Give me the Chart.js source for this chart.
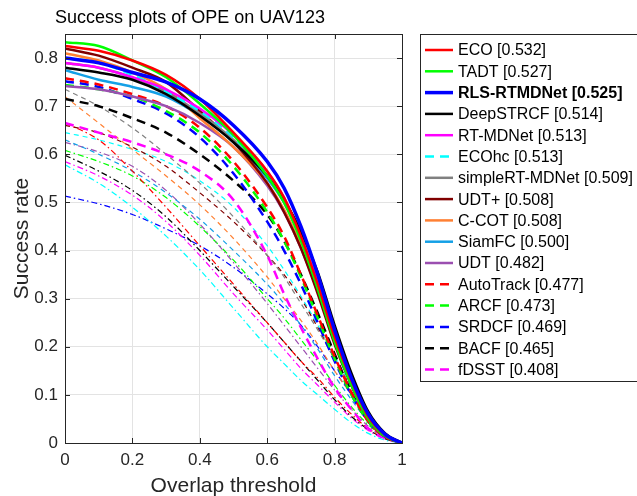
<!DOCTYPE html>
<html lang="en">
<head>
<meta charset="UTF-8">
<title>Success plots of OPE on UAV123</title>
<script src="https://cdn.jsdelivr.net/npm/chart.js"></script>
<style>
  html, body { margin: 0; padding: 0; background: #fff; }
  #c { display: block; }
</style>
</head>
<body>
<canvas id="c" width="637" height="496"></canvas>
<script>
// overlap thresholds (x) shared by every curve
const thresholds = [0, 0.1, 0.2, 0.3, 0.4, 0.5, 0.6, 0.65, 0.7, 0.75, 0.8, 0.85, 0.9, 0.95, 1];
const xTicks = [0, 0.2, 0.4, 0.6, 0.8, 1];
const yTicks = [0, 0.1, 0.2, 0.3, 0.4, 0.5, 0.6, 0.7, 0.8];

// trackers shown in the legend, in legend order
const trackerNames = ['ECO', 'TADT', 'RLS-RTMDNet', 'DeepSTRCF', 'RT-MDNet', 'ECOhc', 'simpleRT-MDNet',
  'UDT+', 'C-COT', 'SiamFC', 'UDT', 'AutoTrack', 'ARCF', 'SRDCF', 'BACF', 'fDSST'];
const trackerScores = ['0.532', '0.527', '0.525', '0.514', '0.513', '0.513', '0.509',
  '0.508', '0.508', '0.500', '0.482', '0.477', '0.473', '0.469', '0.465', '0.408'];

// success rate per threshold
const eco        = [0.825, 0.815, 0.795, 0.765, 0.715, 0.645, 0.565, 0.51, 0.43, 0.33, 0.22, 0.13, 0.055, 0.017, 0];
const tadt       = [0.833, 0.825, 0.795, 0.76, 0.705, 0.64, 0.555, 0.50, 0.42, 0.32, 0.21, 0.12, 0.05, 0.015, 0];
const rlsRtmdnet = [0.80, 0.79, 0.77, 0.75, 0.715, 0.66, 0.585, 0.53, 0.45, 0.35, 0.235, 0.135, 0.06, 0.018, 0];
const deepStrcf  = [0.78, 0.77, 0.755, 0.725, 0.68, 0.625, 0.555, 0.505, 0.44, 0.355, 0.245, 0.145, 0.065, 0.02, 0];
const rtMdnet    = [0.79, 0.78, 0.76, 0.735, 0.695, 0.64, 0.565, 0.51, 0.43, 0.335, 0.225, 0.13, 0.055, 0.017, 0];
const ecoHc      = [0.80, 0.79, 0.765, 0.73, 0.69, 0.635, 0.56, 0.505, 0.43, 0.335, 0.225, 0.13, 0.055, 0.017, 0];
const simpleRt   = [0.79, 0.78, 0.76, 0.73, 0.685, 0.63, 0.555, 0.50, 0.425, 0.33, 0.22, 0.125, 0.055, 0.017, 0];
const udtPlus    = [0.82, 0.805, 0.78, 0.75, 0.69, 0.625, 0.54, 0.48, 0.405, 0.31, 0.205, 0.12, 0.05, 0.015, 0];
const ccot       = [0.81, 0.795, 0.77, 0.735, 0.675, 0.615, 0.54, 0.485, 0.41, 0.32, 0.215, 0.125, 0.05, 0.015, 0];
const siamFc     = [0.775, 0.755, 0.74, 0.72, 0.68, 0.625, 0.55, 0.50, 0.43, 0.335, 0.225, 0.13, 0.055, 0.017, 0];
const udt        = [0.742, 0.735, 0.72, 0.70, 0.665, 0.615, 0.535, 0.48, 0.405, 0.315, 0.21, 0.12, 0.05, 0.015, 0];
const autoTrack  = [0.758, 0.745, 0.725, 0.70, 0.655, 0.585, 0.49, 0.43, 0.35, 0.265, 0.18, 0.105, 0.045, 0.013, 0];
const arcf       = [0.744, 0.735, 0.72, 0.69, 0.645, 0.575, 0.48, 0.42, 0.345, 0.26, 0.175, 0.10, 0.045, 0.013, 0];
const srdcf      = [0.752, 0.74, 0.715, 0.685, 0.635, 0.56, 0.46, 0.40, 0.33, 0.25, 0.17, 0.10, 0.045, 0.013, 0];
const bacf       = [0.715, 0.70, 0.675, 0.645, 0.60, 0.545, 0.475, 0.42, 0.35, 0.27, 0.185, 0.105, 0.045, 0.013, 0];
const fdsst      = [0.665, 0.645, 0.625, 0.60, 0.565, 0.505, 0.39, 0.31, 0.24, 0.175, 0.115, 0.07, 0.03, 0.01, 0];

// other trackers (not in the legend)
const other1  = [0.735, 0.70, 0.655, 0.60, 0.54, 0.47, 0.39, 0.345, 0.29, 0.235, 0.175, 0.115, 0.06, 0.02, 0];
const other2  = [0.72, 0.665, 0.61, 0.555, 0.495, 0.425, 0.345, 0.30, 0.255, 0.205, 0.15, 0.10, 0.05, 0.018, 0];
const other3  = [0.66, 0.645, 0.615, 0.575, 0.52, 0.46, 0.39, 0.35, 0.30, 0.24, 0.175, 0.115, 0.06, 0.02, 0];
const other4  = [0.665, 0.63, 0.565, 0.49, 0.41, 0.33, 0.25, 0.21, 0.17, 0.135, 0.095, 0.06, 0.03, 0.01, 0];
const other5  = [0.645, 0.63, 0.61, 0.585, 0.545, 0.49, 0.41, 0.36, 0.305, 0.245, 0.18, 0.12, 0.06, 0.02, 0];
const other6  = [0.63, 0.60, 0.565, 0.52, 0.465, 0.40, 0.33, 0.29, 0.245, 0.195, 0.14, 0.09, 0.045, 0.015, 0];
const other7  = [0.625, 0.605, 0.575, 0.525, 0.455, 0.375, 0.29, 0.245, 0.20, 0.155, 0.11, 0.07, 0.035, 0.012, 0];
const other8  = [0.608, 0.585, 0.555, 0.51, 0.45, 0.38, 0.30, 0.26, 0.215, 0.17, 0.12, 0.075, 0.038, 0.012, 0];
const other9  = [0.598, 0.565, 0.525, 0.47, 0.40, 0.325, 0.25, 0.21, 0.17, 0.13, 0.09, 0.055, 0.028, 0.009, 0];
const other10 = [0.585, 0.555, 0.515, 0.46, 0.39, 0.31, 0.235, 0.195, 0.155, 0.12, 0.085, 0.052, 0.026, 0.008, 0];
const other11 = [0.578, 0.54, 0.49, 0.43, 0.36, 0.28, 0.20, 0.165, 0.13, 0.10, 0.07, 0.042, 0.02, 0.006, 0];
const other12 = [0.513, 0.497, 0.475, 0.445, 0.41, 0.365, 0.31, 0.28, 0.245, 0.20, 0.15, 0.10, 0.05, 0.015, 0];

const FONT = "'Liberation Sans', Arial, Helvetica, sans-serif";
const TXT = '#262626';
const DASH = [9, 6];
const THIN_DASH = [5, 4];
const DASH_DOT = [6, 3, 1.5, 3];

function curve(label, values, color, width, dash) {
  return {
    label: label,
    data: thresholds.map((t, i) => ({ x: t, y: values[i] })),
    borderColor: color,
    backgroundColor: color,
    borderWidth: width,
    borderDash: dash || [],
    pointRadius: 0,
    fill: false,
    cubicInterpolationMode: 'monotone'
  };
}

// index 0 is drawn on top
const datasets = [
  curve('RLS-RTMDNet', rlsRtmdnet, '#0000ff', 3.5),
  curve('ECO', eco, '#ff0000', 2.5),
  curve('TADT', tadt, '#00ff00', 2.5),
  curve('DeepSTRCF', deepStrcf, '#000000', 2.5),
  curve('RT-MDNet', rtMdnet, '#ff00ff', 2.5),
  curve('ECOhc', ecoHc, '#00ffff', 2.5, DASH),
  curve('simpleRT-MDNet', simpleRt, '#808080', 2.5),
  curve('UDT+', udtPlus, '#800000', 2.5),
  curve('C-COT', ccot, '#ff8033', 2.5),
  curve('SiamFC', siamFc, '#14a0e6', 2.5),
  curve('UDT', udt, '#9b4fb0', 2.5),
  curve('AutoTrack', autoTrack, '#ff0000', 2.5, DASH),
  curve('ARCF', arcf, '#00ff00', 2.5, DASH),
  curve('SRDCF', srdcf, '#0000ff', 2.5, DASH),
  curve('BACF', bacf, '#000000', 2.5, DASH),
  curve('fDSST', fdsst, '#ff00ff', 2.5, DASH),
  curve('o1', other1, '#808080', 1.2, THIN_DASH),
  curve('o2', other2, '#ff8033', 1.2, THIN_DASH),
  curve('o3', other3, '#800000', 1.2, THIN_DASH),
  curve('o4', other4, '#ff0000', 1.2, DASH_DOT),
  curve('o5', other5, '#00ffff', 1.2, THIN_DASH),
  curve('o6', other6, '#14a0e6', 1.2, THIN_DASH),
  curve('o7', other7, '#9b4fb0', 1.2, DASH_DOT),
  curve('o8', other8, '#00ff00', 1.2, DASH_DOT),
  curve('o9', other9, '#000000', 1.2, DASH_DOT),
  curve('o10', other10, '#ff00ff', 1.2, DASH_DOT),
  curve('o11', other11, '#00ffff', 1.2, DASH_DOT),
  curve('o12', other12, '#0000ff', 1.2, DASH_DOT)
];

function fmt(v) { return String(+v.toFixed(2)); }

// MATLAB-like frame, inward ticks, title, axis labels and boxed legend
const matlabLook = {
  id: 'matlabLook',
  afterDatasetsDraw(chart) {
    const ctx = chart.ctx;
    const a = chart.chartArea;
    const xs = chart.scales.x, ys = chart.scales.y;
    ctx.save();
    ctx.strokeStyle = TXT;
    ctx.lineWidth = 1;
    ctx.setLineDash([]);
    ctx.strokeRect(Math.round(a.left) + 0.5, Math.round(a.top) + 0.5,
      Math.round(a.right - a.left), Math.round(a.bottom - a.top));
    ctx.beginPath();
    xTicks.forEach(t => {
      const px = Math.round(xs.getPixelForValue(t)) + 0.5;
      ctx.moveTo(px, a.bottom); ctx.lineTo(px, a.bottom - 5);
      ctx.moveTo(px, a.top); ctx.lineTo(px, a.top + 5);
    });
    yTicks.forEach(t => {
      const py = Math.round(ys.getPixelForValue(t)) + 0.5;
      ctx.moveTo(a.left, py); ctx.lineTo(a.left + 5, py);
      ctx.moveTo(a.right, py); ctx.lineTo(a.right - 5, py);
    });
    ctx.stroke();

    // title and axis labels
    ctx.fillStyle = '#000';
    ctx.textAlign = 'center';
    ctx.textBaseline = 'middle';
    ctx.font = '18px ' + FONT;
    ctx.fillText('Success plots of OPE on UAV123', 190, 18);
    ctx.fillStyle = TXT;
    ctx.font = '21px ' + FONT;
    ctx.fillText('Overlap threshold', (a.left + a.right) / 2, 486);
    ctx.save();
    ctx.translate(22, (a.top + a.bottom) / 2);
    ctx.rotate(-Math.PI / 2);
    ctx.fillText('Success rate', 0, 0);
    ctx.restore();

    // legend
    ctx.fillStyle = '#fff';
    ctx.fillRect(420.5, 34.5, 230, 347);
    ctx.strokeStyle = TXT;
    ctx.strokeRect(420.5, 34.5, 230, 347);
    ctx.textAlign = 'left';
    trackerNames.forEach((name, i) => {
      const ds = chart.data.datasets.find(d => d.label === name);
      const y = 50 + i * 21.3;
      ctx.strokeStyle = ds.borderColor;
      ctx.lineWidth = ds.borderWidth;
      ctx.setLineDash(ds.borderDash);
      ctx.beginPath();
      ctx.moveTo(425, y); ctx.lineTo(453, y);
      ctx.stroke();
      ctx.setLineDash([]);
      ctx.fillStyle = '#000';
      ctx.font = (name === 'RLS-RTMDNet' ? 'bold ' : '') + '16px ' + FONT;
      ctx.fillText(name + ' [' + trackerScores[i] + ']', 458, y + 1);
    });
    ctx.restore();
  }
};

new Chart(document.getElementById('c').getContext('2d'), {
  type: 'line',
  data: { datasets: datasets },
  options: {
    responsive: false,
    animation: false,
    devicePixelRatio: 1,
    layout: { padding: { left: 0, right: 235, top: 34, bottom: 0 } },
    plugins: { legend: { display: false }, title: { display: false }, tooltip: { enabled: false } },
    scales: {
      x: {
        type: 'linear', min: 0, max: 1,
        afterFit: s => { s.height = 53; },
        afterBuildTicks: s => { s.ticks = xTicks.map(v => ({ value: v })); },
        grid: { color: '#e3e3e3', drawTicks: false },
        border: { display: false },
        ticks: { padding: 7, color: TXT, font: { family: FONT, size: 17 }, callback: v => fmt(v), maxRotation: 0 }
      },
      y: {
        type: 'linear', min: 0, max: 0.85,
        afterFit: s => { s.width = 65; },
        afterBuildTicks: s => { s.ticks = yTicks.map(v => ({ value: v })); },
        grid: { color: '#e3e3e3', drawTicks: false },
        border: { display: false },
        ticks: { padding: 7, color: TXT, font: { family: FONT, size: 17 }, callback: v => fmt(v) }
      }
    }
  },
  plugins: [matlabLook]
});
</script>
</body>
</html>
